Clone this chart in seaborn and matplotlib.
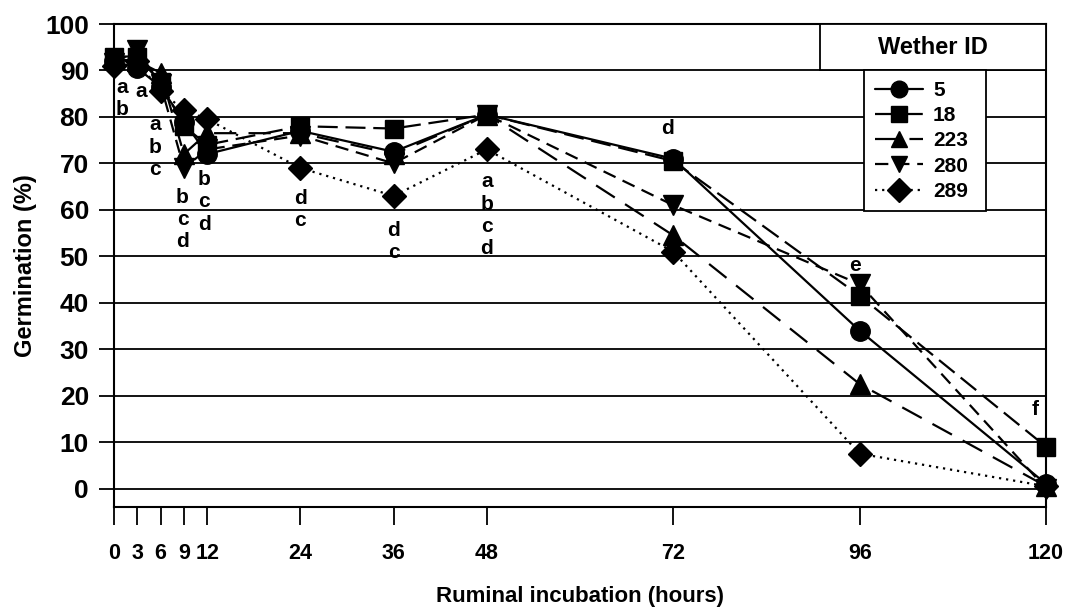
import numpy as np
import pandas as pd
import matplotlib
matplotlib.use("Agg")
import matplotlib.pyplot as plt
from matplotlib.patches import Rectangle
import seaborn as sns

# ---------------- data ----------------
hours = [0, 3, 6, 9, 12, 24, 36, 48, 72, 96, 120]
wether_ids = ["5", "18", "223", "280", "289"]
germ_5 = [92, 90.5, 86.5, 79, 72, 77, 72.5, 80.5, 71, 34, 1]
germ_18 = [93, 93, 87.5, 78, 74, 78, 77.5, 80.5, 70.5, 41.5, 9]
germ_223 = [92.5, 92, 89.5, 72, 76.5, 76.5, 72, 80.5, 54.5, 22.5, 0.5]
germ_280 = [91.5, 94.5, 87, 69, 73, 76, 70, 80.5, 61, 44, 0]
germ_289 = [91, 92, 85.5, 81.5, 79.5, 69, 63, 73, 51, 7.5, 0.5]

# significance letters per incubation time (top letter level, %)
letter_hours = [0, 3, 6, 9, 12, 24, 36, 48, 72, 96, 120]
letter_text = ["a\nb", "a", "a\nb\nc", "b\nc\nd", "b\nc\nd", "d\nc", "d\nc",
               "a\nb\nc\nd", "d", "e", "f"]
letter_top = [86.3, 85.5, 78.3, 62.7, 66.5, 62.4, 55.6, 66, 77.6, 48, 17]

yticks = list(range(0, 101, 10))

# ---------------- build frame ----------------
series = {"5": germ_5, "18": germ_18, "223": germ_223, "280": germ_280, "289": germ_289}
df = pd.concat(
    [pd.DataFrame({"hours": hours, "germ": v, "wether": k}) for k, v in series.items()],
    ignore_index=True,
)

sns.set_style("white")
plt.rcParams["font.family"] = ["Liberation Sans", "DejaVu Sans"]
plt.rcParams["text.color"] = "black"
plt.rcParams["axes.labelcolor"] = "black"
plt.rcParams["xtick.color"] = "black"
plt.rcParams["ytick.color"] = "black"

fig = plt.figure(figsize=(10.74, 6.11), dpi=100)
ax = fig.add_axes([0.1061, 0.170, 0.8679, 0.7907])

markers = {"5": "o", "18": "s", "223": "^", "280": "v", "289": "D"}
dashes = {"5": "", "18": (9, 3.5), "223": (10, 5.5), "280": (6, 3.5), "289": (1, 2.2)}

sns.lineplot(
    data=df, x="hours", y="germ", hue="wether", style="wether",
    hue_order=wether_ids, style_order=wether_ids,
    palette=["black"] * 5, markers=markers, dashes=dashes,
    linewidth=1.6, markersize=14, markeredgecolor="black", markeredgewidth=1,
    ax=ax, legend=True, zorder=3,
)

for line in ax.lines:
    line.set_clip_on(False)
    m = line.get_marker()
    if m == "D":
        line.set_markersize(12)
    elif m == "s":
        line.set_markersize(13)

ax.set_xlim(0, 120)
ax.set_ylim(-4, 100)
ax.set_xticks(hours)
ax.set_xticklabels([str(h) for h in hours])
ax.set_yticks(yticks)
ax.set_yticklabels([str(v) for v in yticks])

ax.grid(axis="y", color="black", linewidth=1.3, zorder=0)
ax.grid(axis="x", visible=False)
for sp in ax.spines.values():
    sp.set_color("black")
    sp.set_linewidth(1.5)

ax.tick_params(axis="y", left=True, direction="out", length=11, width=1.3, pad=7,
               labelsize=19, colors="black")
ax.tick_params(axis="x", bottom=True, direction="out", length=13, width=1.3, pad=13,
               labelsize=15.5, colors="black")
for t in ax.get_yticklabels():
    t.set_fontweight("bold")
for t in ax.get_xticklabels():
    t.set_fontweight("bold")

ax.set_xlabel("Ruminal incubation (hours)", fontsize=16, fontweight="bold", labelpad=16)
ax.set_ylabel("Germination (%)", fontsize=17, fontweight="bold", labelpad=6)

# significance letters
letter_dx = [6, 3, -4, -1, -2, 0, 0, 0, -4, -3, -8]
for h, txt, top, dx in zip(letter_hours, letter_text, letter_top, letter_dx):
    for i, ch in enumerate(txt.split("\n")):
        ax.annotate(ch, xy=(h, top), xytext=(dx, -i * 16), textcoords="offset points",
                    ha="center", va="center", fontsize=15, fontweight="bold",
                    zorder=4)

# legend
leg_old = ax.get_legend()
handles = leg_old.legend_handles
labels = [t.get_text() for t in leg_old.get_texts()]
leg_old.remove()
for hnd in handles:
    hnd.set_markeredgecolor("black")
    hnd.set_color("black")
    hnd.set_markersize(12)

title_box = Rectangle((0.7575, 90), 0.2425, 10, transform=ax.get_yaxis_transform(),
                      facecolor="white", edgecolor="black", linewidth=1.3, zorder=5,
                      clip_on=False)
ax.add_patch(title_box)
ax.text(0.7575 + 0.2425 / 2, 95, "Wether ID", transform=ax.get_yaxis_transform(),
        ha="center", va="center", fontsize=17, fontweight="bold", zorder=6)

leg = ax.legend(handles, labels, loc="upper left",
                bbox_to_anchor=(0.805, 90, 0.131, 0), bbox_transform=ax.get_yaxis_transform(),
                mode="expand", borderaxespad=0, frameon=True, fancybox=False,
                edgecolor="black", facecolor="white", framealpha=1,
                prop={"size": 15, "weight": "bold"}, handlelength=2.3,
                handletextpad=0.5, labelspacing=0.3, borderpad=0.5)
leg.get_frame().set_linewidth(1.3)
leg.set_zorder(6)

fig.savefig("out.png", dpi=100)
